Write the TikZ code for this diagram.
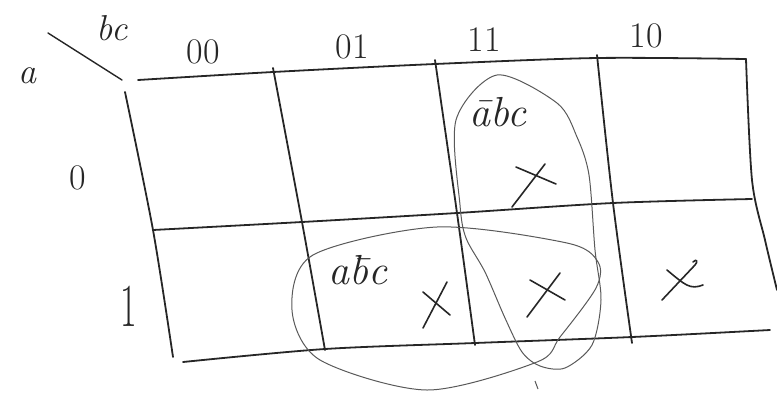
\documentclass[tikz,border=0pt]{standalone}
\usepackage{fontspec}
\begin{document}
\begin{tikzpicture}[x=1pt,y=-1pt,
  gridline/.style={line width=1.8pt,color=black!85,line cap=round,line join=round},
  loopline/.style={line width=1pt,color=black!65},
  crossline/.style={line width=1.6pt,color=black!85,line cap=round},
  hand/.style={inner sep=0pt,font=\fontsize{36}{38}\selectfont,color=black!85},
  cellt/.style={inner sep=0pt,font=\fontsize{42}{44}\selectfont\itshape,color=black!85}]
\useasboundingbox (0,0) rectangle (777,392);
% grid
\draw[gridline] plot[smooth] coordinates {(138,80) (273,72) (435,64) (597,58) (746,59)};
\draw[gridline] plot[smooth] coordinates {(153,230) (302,222) (457,213) (613,203) (752,199)};
\draw[gridline] plot[smooth] coordinates {(183,362) (325,349) (475,343) (632,337) (770,330)};
\draw[gridline] plot[smooth] coordinates {(125,92) (153,230) (173,357)};
\draw[gridline] plot[smooth] coordinates {(273,68) (302,222) (325,350)};
\draw[gridline] plot[smooth] coordinates {(435,60) (457,213) (475,345)};
\draw[gridline] plot[smooth] coordinates {(597,55) (613,203) (632,343)};
\draw[gridline] plot[smooth] coordinates {(746,59) (752,180) (765,240) (777,290)};
% corner diagonal
\draw[gridline,line width=1.4pt] (48,33) -- (122,80);
% labels
\node[hand] (a) at (27,76) {\itshape a};
\node[hand] (bc) at (112,28) {\itshape bc};
\node[hand] (c00) at (203,52) {00};
\node[hand] (c01) at (352,47) {01};
\node[hand] (c11) at (484,40) {11};
\node[hand] (c10) at (646,36) {10};
\node[hand] (r0) at (78,178) {0};
\node[hand] (r1) at (129,306) {\scalebox{1}[1.7]{1}};
% cell texts
\node[cellt] (t1) at (498,112) {ābc};
\node[cellt] (t2) at (358,270) {a\=bc};
% crosses
\coordinate (x1a) at (516,167); \coordinate (x1b) at (556,184);
\coordinate (x1c) at (545,164); \coordinate (x1d) at (512,207);
\draw[crossline] (x1a) -- (x1b); \draw[crossline] (x1c) -- (x1d);
\coordinate (x2a) at (423,292); \coordinate (x2b) at (450,315);
\coordinate (x2c) at (447,282); \coordinate (x2d) at (423,328);
\draw[crossline] (x2a) -- (x2b); \draw[crossline] (x2c) -- (x2d);
\coordinate (x3a) at (530,280); \coordinate (x3b) at (565,300);
\coordinate (x3c) at (560,273); \coordinate (x3d) at (527,317);
\draw[crossline] (x3a) -- (x3b); \draw[crossline] (x3c) -- (x3d);
\coordinate (x4a) at (667,270); \coordinate (x4b) at (703,285);
\coordinate (x4c) at (693,262); \coordinate (x4d) at (662,300);
\draw[crossline] (x4a) .. controls (685,285) and (690,290) .. (x4b);
\draw[crossline] (x4c) .. controls (697,258) and (698,262) .. (695,265) -- (x4d);
% groupings
\draw[loopline] plot[smooth cycle] coordinates {(497,75) (557,103) (577,137) (589,175) (595,250) (601,300) (592,345) (565,368) (540,366) (522,352) (505,318) (485,272) (466,238) (460,205) (456,120)};
\draw[loopline] plot[smooth cycle] coordinates {(292,310) (313,255) (437,227) (567,243) (598,262) (596,288) (560,337) (537,362) (427,390) (320,360)};
\draw[loopline] (535,381) -- (538,389);
\end{tikzpicture}
\end{document}
